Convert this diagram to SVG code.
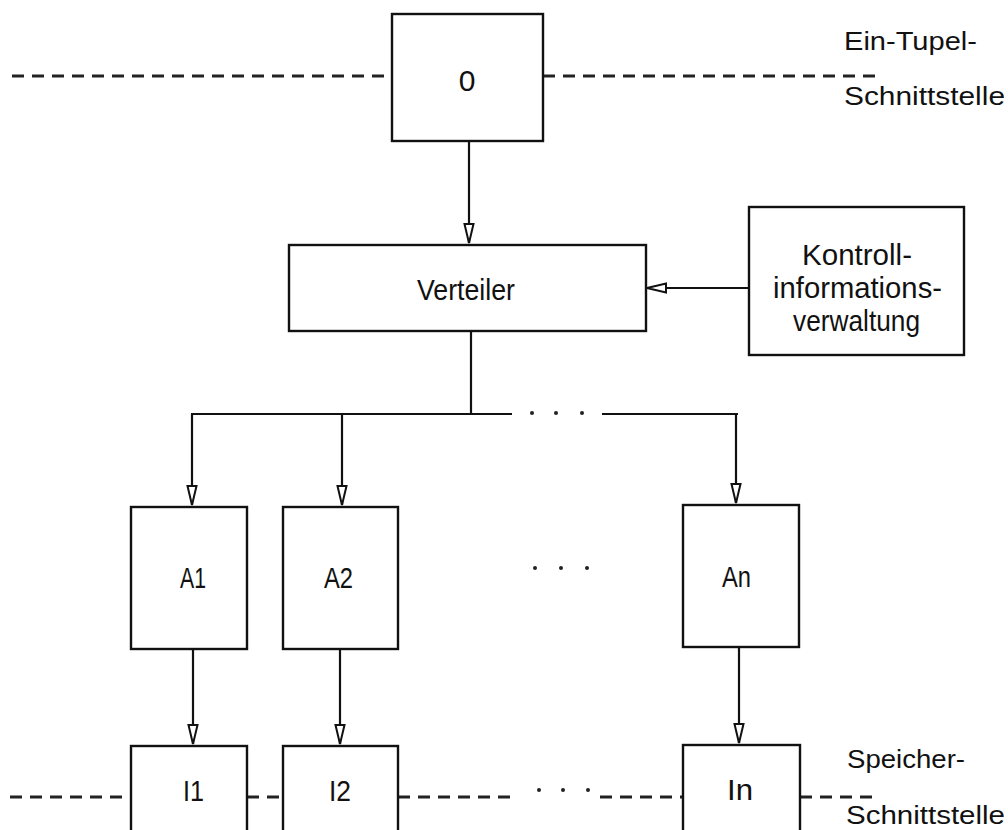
<svg xmlns="http://www.w3.org/2000/svg" width="1008" height="830" viewBox="0 0 1008 830">
  <style>
    .box { fill: #ffffff; stroke: #111111; stroke-width: 2.4; }
    .line { fill: none; stroke: #111111; stroke-width: 2.2; }
    .dash { fill: none; stroke: #222222; stroke-width: 3; stroke-dasharray: 12 8; }
    .lbl { font-family: "Liberation Sans", Arial, sans-serif; font-size: 30px; fill: #111111; }
    .side { font-family: "Liberation Sans", Arial, sans-serif; font-size: 25px; fill: #111111; }
    .dot { fill: #222222; }
  </style>
  <defs>
    <marker id="arrow" markerUnits="userSpaceOnUse" markerWidth="24" markerHeight="14" viewBox="-21 -7 24 14" refX="0" refY="0" orient="auto">
      <path d="M0,0 L-19,-4.5 L-19,4.5 Z" fill="#ffffff" stroke="#111111" stroke-width="2"/>
    </marker>
  </defs>

  <!-- interface lines (dashed) -->
  <g id="interfaces">
    <path class="dash" d="M12,76 H392"/>
    <path class="dash" d="M543,76 H883"/>
    <path class="dash" d="M10,797 H131"/>
    <path class="dash" d="M247,797 H283"/>
    <path class="dash" d="M398,797 H516"/>
    <path class="dash" d="M600,797 H683"/>
    <path class="dash" d="M800,797 H880"/>
    <circle class="dot" cx="539" cy="790" r="2"/>
    <circle class="dot" cx="563" cy="790" r="2"/>
    <circle class="dot" cx="588" cy="790" r="2"/>
    <text class="side" x="844" y="50" textLength="133" lengthAdjust="spacingAndGlyphs">Ein-Tupel-</text>
    <text class="side" x="844" y="105" textLength="161" lengthAdjust="spacingAndGlyphs">Schnittstelle</text>
    <text class="side" x="847" y="768" textLength="118" lengthAdjust="spacingAndGlyphs">Speicher-</text>
    <text class="side" x="846" y="824" textLength="159" lengthAdjust="spacingAndGlyphs">Schnittstelle</text>
  </g>

  <!-- connectors -->
  <g id="connectors">
    <path class="line" d="M469,141 V243" marker-end="url(#arrow)"/>
    <path class="line" d="M749,288 H647" marker-end="url(#arrow)"/>
    <path class="line" d="M471,331 V414"/>
    <path class="line" d="M191,414 H512"/>
    <path class="line" d="M602,414 H738"/>
    <circle class="dot" cx="532" cy="413" r="2"/>
    <circle class="dot" cx="556" cy="413" r="2"/>
    <circle class="dot" cx="582" cy="413" r="2"/>
    <path class="line" d="M192,414 V505" marker-end="url(#arrow)"/>
    <path class="line" d="M342,414 V505" marker-end="url(#arrow)"/>
    <path class="line" d="M736,414 V503" marker-end="url(#arrow)"/>
    <path class="line" d="M193,649 V744" marker-end="url(#arrow)"/>
    <path class="line" d="M340,649 V744" marker-end="url(#arrow)"/>
    <path class="line" d="M739,647 V743" marker-end="url(#arrow)"/>
  </g>

  <g id="node-0">
    <rect class="box" x="392" y="14" width="151" height="127"/>
    <text class="lbl" x="467" y="91" text-anchor="middle">0</text>
  </g>

  <g id="node-verteiler">
    <rect class="box" x="289" y="245" width="357" height="86"/>
    <text class="lbl" x="417" y="300" textLength="98" lengthAdjust="spacingAndGlyphs">Verteiler</text>
  </g>

  <g id="node-kontroll">
    <rect class="box" x="749" y="207" width="215" height="148"/>
    <text class="lbl" x="802" y="265" textLength="110" lengthAdjust="spacingAndGlyphs">Kontroll-</text>
    <text class="lbl" x="773" y="298" textLength="169" lengthAdjust="spacingAndGlyphs">informations-</text>
    <text class="lbl" x="793" y="331" textLength="127" lengthAdjust="spacingAndGlyphs">verwaltung</text>
  </g>

  <g id="node-a1">
    <rect class="box" x="131" y="507" width="116" height="142"/>
    <text class="lbl" x="180" y="588" textLength="26" lengthAdjust="spacingAndGlyphs">A1</text>
  </g>
  <g id="node-a2">
    <rect class="box" x="283" y="507" width="115" height="142"/>
    <text class="lbl" x="324" y="588" textLength="29" lengthAdjust="spacingAndGlyphs">A2</text>
  </g>
  <g id="node-an">
    <rect class="box" x="683" y="505" width="116" height="142"/>
    <text class="lbl" x="722" y="587" textLength="29" lengthAdjust="spacingAndGlyphs">An</text>
  </g>
  <g id="ellipsis-a">
    <circle class="dot" cx="535" cy="568" r="2"/>
    <circle class="dot" cx="561" cy="568" r="2"/>
    <circle class="dot" cx="587" cy="568" r="2"/>
  </g>

  <g id="node-i1">
    <rect class="box" x="131" y="746" width="116" height="100"/>
    <text class="lbl" x="183" y="801" textLength="21" lengthAdjust="spacingAndGlyphs">I1</text>
  </g>
  <g id="node-i2">
    <rect class="box" x="283" y="746" width="115" height="100"/>
    <text class="lbl" x="329" y="801" textLength="22" lengthAdjust="spacingAndGlyphs">I2</text>
  </g>
  <g id="node-in">
    <rect class="box" x="683" y="745" width="117" height="100"/>
    <text class="lbl" x="727" y="800" textLength="26" lengthAdjust="spacingAndGlyphs">In</text>
  </g>
</svg>
